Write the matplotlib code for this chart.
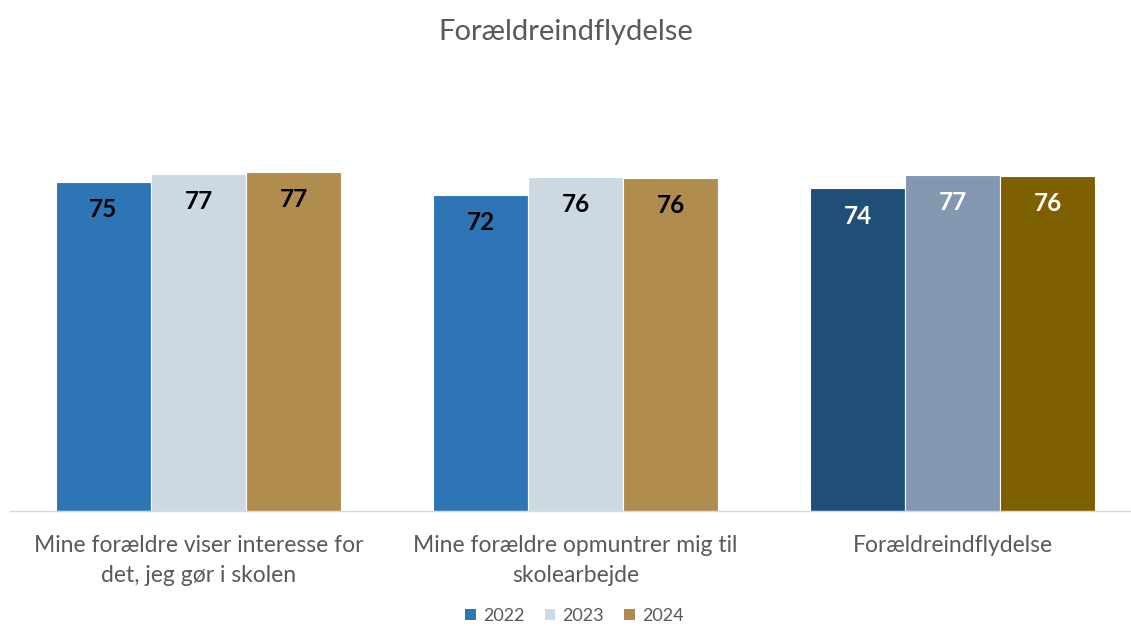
"""Forældreindflydelse – grouped bars per year."""
import matplotlib
matplotlib.use("Agg")
import matplotlib.pyplot as plt
import numpy as np
from matplotlib.patches import Patch

plt.rcParams["font.family"] = ["Lato", "DejaVu Sans"]

categories = [
    "Mine forældre viser interesse for\ndet, jeg gør i skolen",
    "Mine forældre opmuntrer mig til\nskolearbejde",
    "Forældreindflydelse",
]
years = ["2022", "2023", "2024"]
values = {
    "2022": [75.0, 72.1, 73.6],
    "2023": [76.9, 76.2, 76.6],
    "2024": [77.3, 76.0, 76.5],
}

# normal colours per year, darker set for the summary group
C_NORMAL = {"2022": "#2E75B6", "2023": "#CCD9E3", "2024": "#B08C4F"}
C_TOTAL = {"2022": "#1F4E79", "2023": "#8497B0", "2024": "#7F6000"}
C_TEXT = "#595959"

fig = plt.figure(figsize=(11.31, 6.26), dpi=100)
ax = fig.add_axes([10 / 1131, 0.1837, 1121 / 1131, 0.700])

x = np.arange(len(categories))
bw = 0.252
for i, yr in enumerate(years):
    offs = (i - 1) * bw
    cols = [C_NORMAL[yr], C_NORMAL[yr], C_TOTAL[yr]]
    bars = ax.bar(x + offs, values[yr], width=bw, color=cols,
                  edgecolor="white", linewidth=0.8, zorder=2)
    for j, b in enumerate(bars):
        tc = "white" if j == 2 else "black"
        ax.text(b.get_x() + b.get_width() / 2, b.get_height() - 6.3,
                f"{values[yr][j]:.0f}", ha="center", va="center",
                fontsize=17.5, fontweight="bold", color=tc)

ax.set_xlim(-0.5, -0.5 + 1121 / 377)
ax.set_ylim(0, 100)
ax.set_xticks(x)
ax.set_xticklabels(categories, fontsize=16.5, color=C_TEXT, linespacing=1.55)
ax.tick_params(axis="x", length=0, pad=17)
ax.set_yticks([])
for s in ["top", "right", "left"]:
    ax.spines[s].set_visible(False)
ax.spines["bottom"].set_color("#D9D9D9")
ax.spines["bottom"].set_linewidth(1.0)

fig.text(0.5, 1 - 32 / 626, "Forældreindflydelse", ha="center", va="center",
         fontsize=21, color=C_TEXT)

handles = [Patch(facecolor=C_NORMAL[yr], label=yr) for yr in years]
fig.legend(handles=handles, loc="center", bbox_to_anchor=(0.508, 1 - 616 / 626),
           ncol=3, frameon=False, fontsize=13, handlelength=0.6, handleheight=0.6,
           handletextpad=0.4, columnspacing=1.1, labelcolor=C_TEXT)

fig.savefig("out.png", dpi=100)
